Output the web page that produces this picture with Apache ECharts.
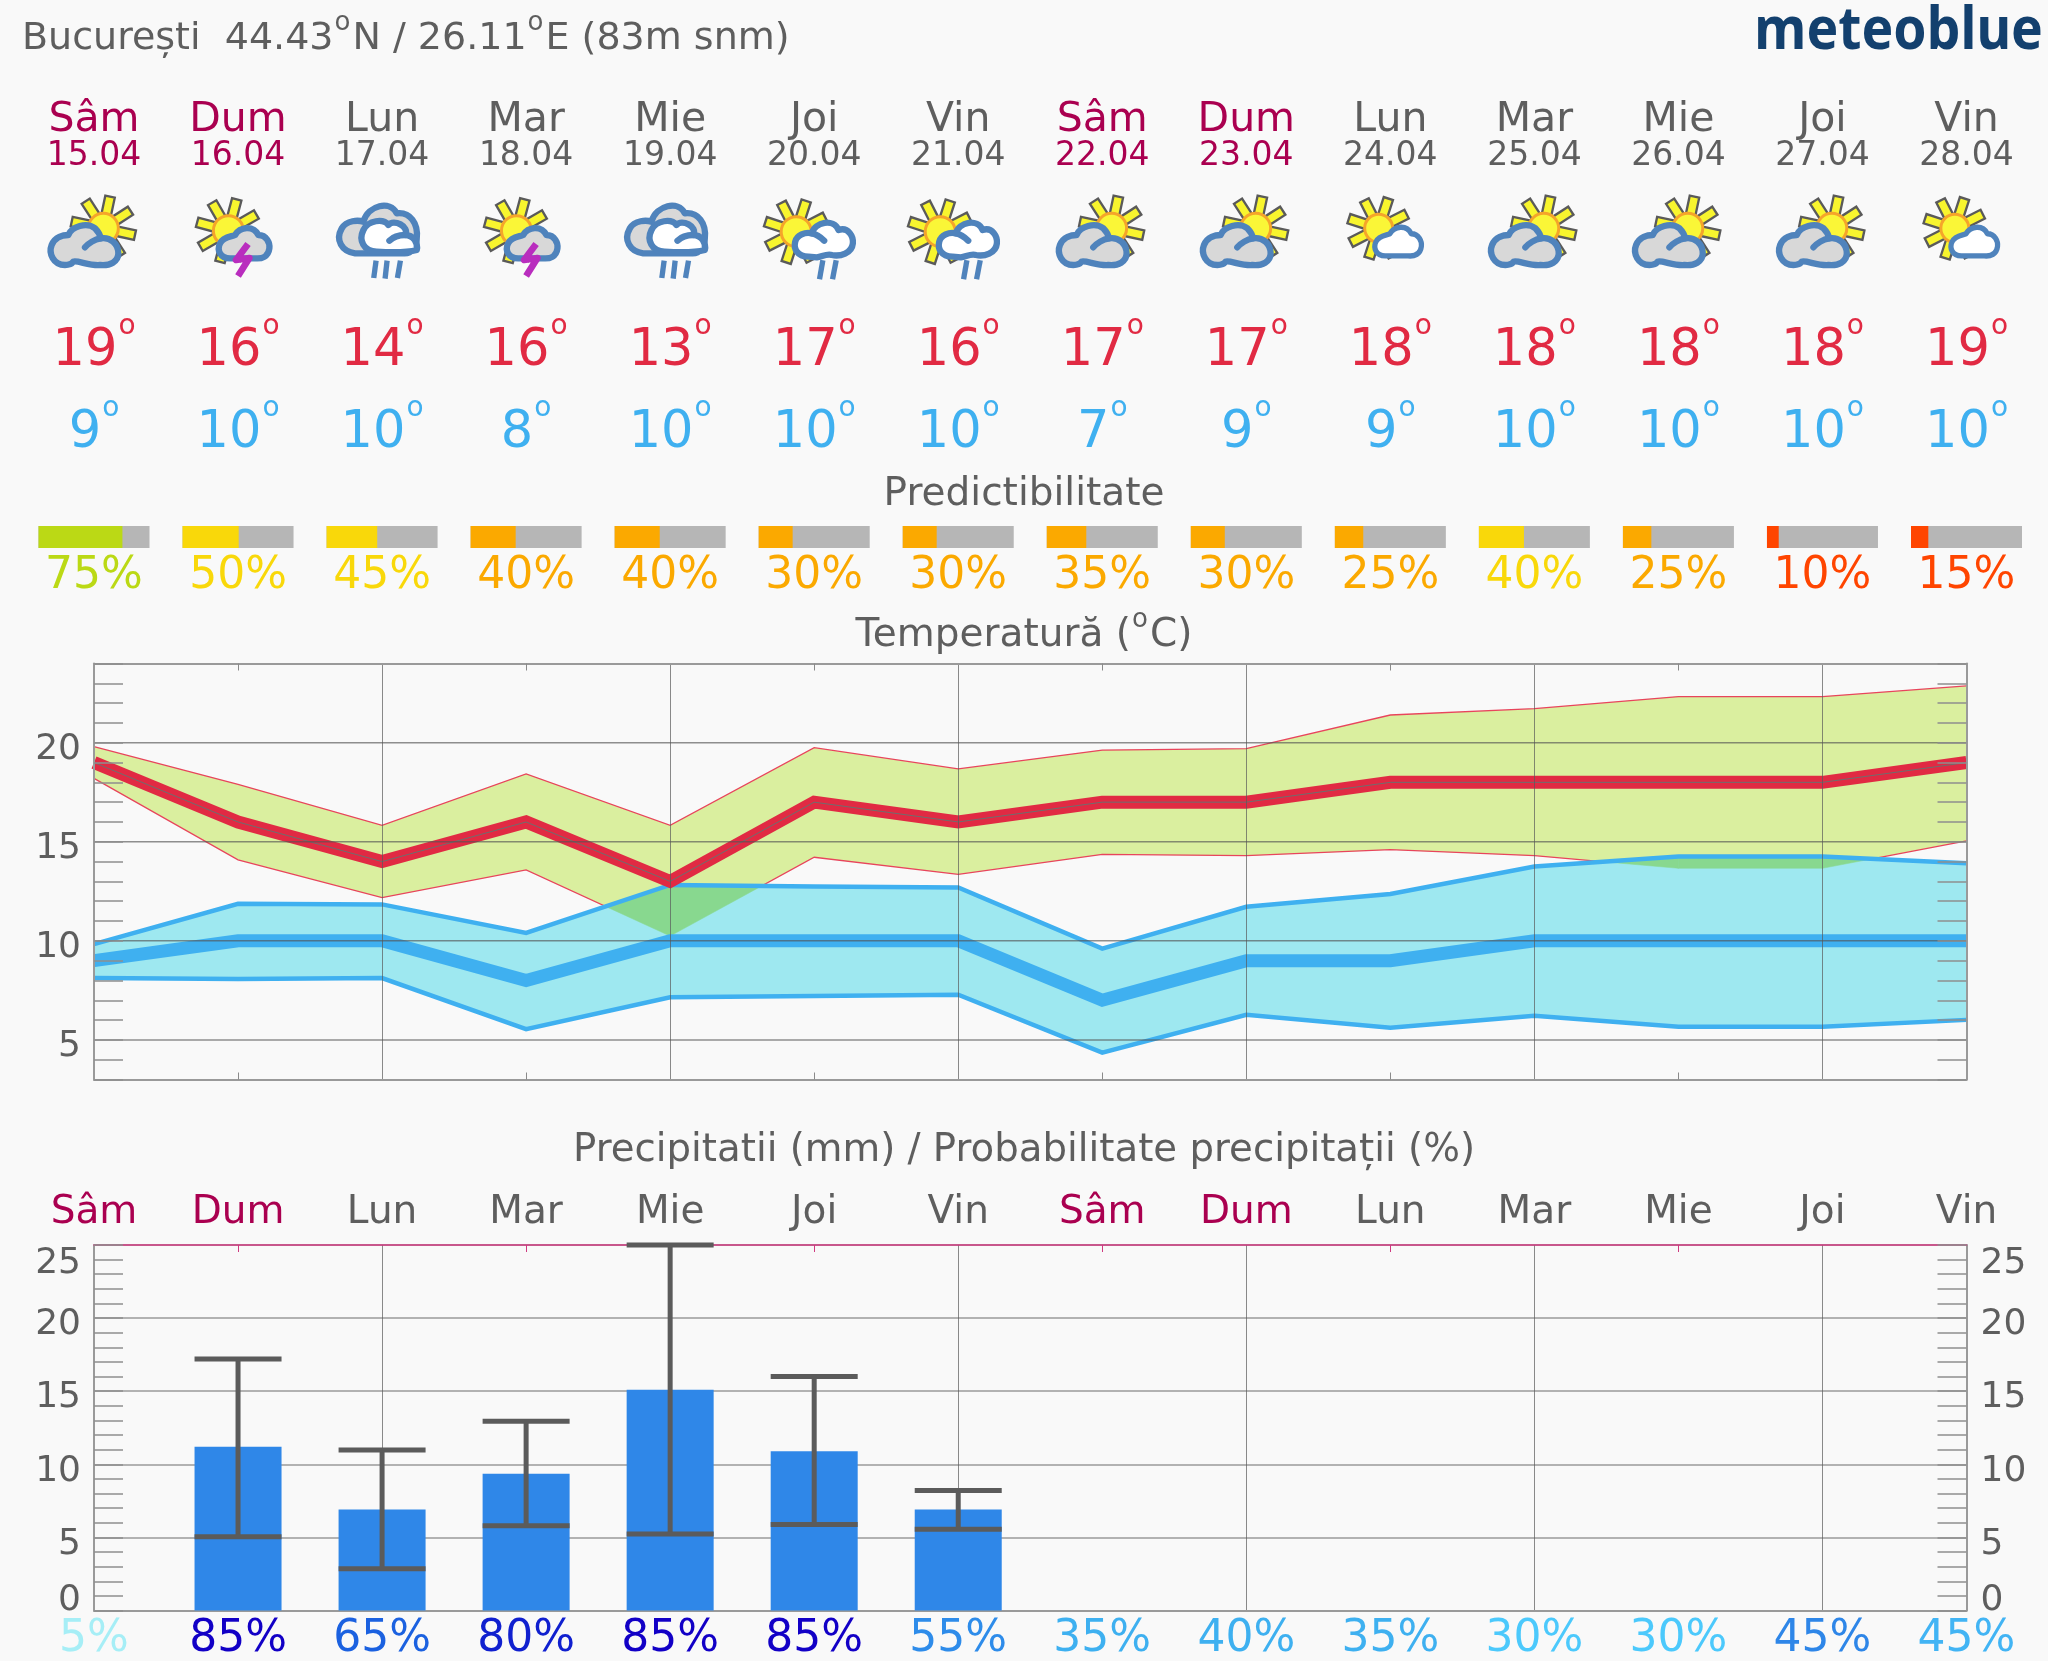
<!DOCTYPE html>
<html>
<head>
<meta charset="utf-8">
<style>html,body{margin:0;padding:0;background:#F9F9F9}#c{width:2048px;height:1661px}</style>
<script src="https://cdn.jsdelivr.net/npm/echarts@6/dist/echarts.min.js"></script>
</head>
<body>
<div id="c"></div>
<script>
// ---------- data ----------
const dayNames = ['Sâm','Dum','Lun','Mar','Mie','Joi','Vin','Sâm','Dum','Lun','Mar','Mie','Joi','Vin'];
const dates = ['15.04','16.04','17.04','18.04','19.04','20.04','21.04','22.04','23.04','24.04','25.04','26.04','27.04','28.04'];
const weekendDays = [0,1,7,8];
const iconKinds = ['A','B','C','B','C','D','D','A','A','E','A','A','A','E'];
const tempMax = [19,16,14,16,13,17,16,17,17,18,18,18,18,19];
const tempMin = [9,10,10,8,10,10,10,7,9,9,10,10,10,10];
const predictability = [75,50,45,40,40,30,30,35,30,25,40,25,10,15];
const predColors = ['#BBD915','#F9D80A','#F9D80A','#FBA900','#FBA900','#FBA900','#FBA900','#FBA900','#FBA900','#FBA900','#F9D80A','#FBA900','#FF4500','#FF4500'];
const maxUpper = [19.8,17.9,15.83,18.43,15.83,19.75,18.68,19.63,19.7,21.4,21.72,22.33,22.33,22.87];
const maxLower = [18.2,14.09,12.18,13.58,10.24,14.22,13.36,14.36,14.3,14.6,14.3,13.66,13.66,15.05];
const minUpper = [9.83,11.87,11.84,10.4,12.82,12.74,12.69,9.61,11.72,12.36,13.75,14.26,14.26,13.92];
const minLower = [8.12,8.07,8.12,5.54,7.15,7.21,7.28,4.36,6.27,5.61,6.22,5.66,5.66,6.01];
const tempTickLabels = [5,10,15,20];
const precip = [0,11.2,6.9,9.35,15.1,10.9,6.9,0,0,0,0,0,0,0];
const precipHigh = [null,17.2,10.97,12.94,25,16,8.2,null,null,null,null,null,null,null];
const precipLow = [null,5.05,2.85,5.8,5.23,5.88,5.55,null,null,null,null,null,null,null];
const precipTickLabels = [0,5,10,15,20,25];
const precipProb = [5,85,65,80,85,85,55,35,40,35,30,30,45,45];
const probColors = ['#A6EEF6','#1200C6','#1B61E0','#1020CF','#1200C6','#1200C6','#2E8CEA','#3EB0F0','#3EB0F0','#3EB0F0','#4CC9FC','#4CC9FC','#2E86E8','#42B4F4'];

// ---------- style ----------
const FONT = '"DejaVu Sans"';
const GREY = '#5E5E5E', CRIMSON = '#AA0050', RED = '#E12A43', BLUE = '#3FB0F0';
const STROKE = '#4F83BC';
const KB = 0.28;
const measureCtx = document.createElement('canvas').getContext('2d');
function textWidth(s, size){ measureCtx.font = size + 'px ' + FONT; return measureCtx.measureText(s).width; }
function txt(s, x, baseline, size, color, align){
  return {type:'text', x:x, y:baseline - KB*size,
    style:{text:s, fill:color, font:size+'px '+FONT, align:align||'center', verticalAlign:'middle'}};
}
const idx = dayNames.map((_,i)=>i);
const xy = a => a.map((v,i)=>[i,v]);
function dayColor(i){ return weekendDays.indexOf(i)>=0 ? CRIMSON : GREY; }

// ---------- icons (drawn in 3x units, x0 at 192, y0 at 190px) ----------
function rays(cx, cy, r1, r2, w, angles){
  return angles.map(a=>{
    const t=a*Math.PI/180, c=Math.cos(t), s=Math.sin(t), nx=-s*w/2, ny=c*w/2;
    return {type:'polygon', shape:{points:[
      [cx+c*r1+nx,cy+s*r1+ny],[cx+c*r2+nx,cy+s*r2+ny],[cx+c*r2-nx,cy+s*r2-ny],[cx+c*r1-nx,cy+s*r1-ny]]},
      style:{fill:'#F8F52E',stroke:'#5A5A5A',lineWidth:7}};
  });
}
function sun(cx,cy,r,angles){
  return rays(cx,cy,r-6,r+52,29,angles).concat([{type:'circle',shape:{cx:cx,cy:cy,r:r},style:{fill:'#FAF637',stroke:'#F5A52A',lineWidth:9}}]);
}
function p(d,fill,stroke,lw,extra){
  return Object.assign({type:'path',shape:{pathData:d},style:{fill:fill||'none',stroke:stroke||STROKE,lineWidth:lw||19,lineCap:'round',lineJoin:'round'}},extra||{});
}
const bigCloud='M105 225C70 225 55 190 65 165C75 140 100 135 115 135C125 110 170 95 195 115C205 125 210 135 212 145C240 140 265 160 265 190C265 215 240 228 210 225C180 228 140 210 130 215C125 222 115 225 105 225Z';
const bigCurl='M165 172C175 160 195 148 212 145';
const smallCloud='M168 205C138 205 128 180 138 160C148 140 173 140 183 135C198 110 238 105 253 135C278 135 288 160 286 175C283 200 263 207 243 205C220 205 190 205 168 205Z';
const rainCloud='M175 200C140 200 130 175 135 155C140 135 165 125 185 130C195 95 250 85 265 120C295 110 310 140 308 160C305 190 270 200 245 195C230 190 215 200 200 202Z';
const rainCurl='M222 152C210 140 195 132 185 130';
const backCloud='M111 190C71 185 51 150 71 115C86 90 121 90 136 95C151 45 216 30 236 70C276 65 301 100 296 145C296 170 280 190 260 190Z';
const frontCloud='M176 185C136 185 121 150 136 120C151 90 196 85 211 105C226 85 276 110 261 135C286 135 301 160 296 180C270 187 210 187 176 185Z';
const frontCurl='M214 152C226 140 246 135 261 135';
function bar(x1,y1,x2,y2,color,w){ return {type:'line',shape:{x1,y1,x2,y2},style:{stroke:color||STROKE,lineWidth:w||16}}; }
function iconChildren(kind){
  if(kind==='A') return sun(220,115,45,[-78,-123,-33,12,57,102,147,192]).concat([p(bigCloud,'#D8D8D8'),p(bigCurl)]);
  if(kind==='B') return sun(163,122,45,[-75,-120,-165,150,105,60,15,-30]).concat([
    p(smallCloud,'#D8D8D8'),
    {type:'polyline',shape:{points:[[222,162],[186,210],[226,204],[192,258]]},style:{fill:'none',stroke:'#B92DBE',lineWidth:20,lineJoin:'round'}}]);
  if(kind==='C') return [p(backCloud,'#D8D8D8'),p(frontCloud,'#FFFFFF'),p(frontCurl),
    bar(174,212,167,264),bar(207,212,201,266),bar(247,212,238,264)];
  if(kind==='D') return sun(138,125,45,[-72,-117,-162,153,108,63,18,-27]).concat([p(rainCloud,'#FFFFFF'),p(rainCurl),
    bar(218,211,208,268),bar(258,211,247,268)]);
  return sun(157,115,42,[-72,-117,-162,153,108,63,18,-27]).concat([
    p(smallCloud,'#FFFFFF',STROKE,17,{x:22,y:3,scaleX:0.92,scaleY:0.95})]);
}

// ---------- overlay helpers ----------
const OV = {xAxisIndex:4,yAxisIndex:4,type:'custom',silent:true,z:30};
function overlay(name, render){
  return Object.assign({},OV,{name:name,data:idx.map(i=>[i,0]),renderItem:function(par,api){
    const i=api.value(0); const pt=y=>api.coord([i,y]); return render(i,pt);
  }});
}
function degreeText(val,x,baseline,size,color){
  const s=String(val), w=textWidth(s,size), dsize=28, dw=textWidth('o',dsize), gap=1, total=w+gap+dw, left=x-total/2;
  return {type:'group',children:[txt(s,left,baseline,size,color,'left'),txt('o',left+w+gap,baseline-31,dsize,color,'left')]};
}
function composed(pieces,x,baseline,size,dsize,raise,color,center){
  let total=0; pieces.forEach(q=>total+=q==='°'?textWidth('o',dsize)+3:textWidth(q,size));
  let cx=center?x-total/2:x; const out=[];
  pieces.forEach(q=>{
    if(q==='°'){ out.push(txt('o',cx+1,baseline-raise,dsize,color,'left')); cx+=textWidth('o',dsize)+3; }
    else { out.push(txt(q,cx,baseline,size,color,'left')); cx+=textWidth(q,size); }
  });
  return out;
}
// overlap of the two bands, worked out from the band arrays segment by segment
function overlapQuads(){
  const quads=[];
  for(let i=0;i<maxUpper.length-1;i++){
    const a=[maxUpper,maxLower], b=[minUpper,minLower];
    const ts=[0,1];
    a.forEach(s=>b.forEach(r=>{
      const d0=s[i]-r[i], d1=s[i+1]-r[i+1];
      if(d0*d1<0) ts.push(d0/(d0-d1));
    }));
    ts.sort((u,v)=>u-v);
    const at=(s,t)=>s[i]+(s[i+1]-s[i])*t;
    const up=t=>Math.min(at(maxUpper,t),at(minUpper,t));
    const lo=t=>Math.max(at(maxLower,t),at(minLower,t));
    for(let k=0;k<ts.length-1;k++){
      const t0=ts[k],t1=ts[k+1],m=(t0+t1)/2;
      if(t1>t0 && up(m)>lo(m)) quads.push([i+t0,Math.max(up(t0),lo(t0)),Math.min(lo(t0),up(t0)),i+t1,Math.max(up(t1),lo(t1)),Math.min(lo(t1),up(t1))]);
    }
  }
  return quads;
}

// ---------- series ----------
const bandStyle = {silent:true,type:'custom',clip:true,xAxisIndex:0,yAxisIndex:0};
function band(name,up,lo,fill,z){
  return Object.assign({},bandStyle,{name:name,z:z,data:[[0,0]],renderItem:function(par,api){
    const pts=up.map((v,i)=>api.coord([i,v])).concat(lo.map((v,i)=>api.coord([i,v])).reverse());
    return {type:'polygon',shape:{points:pts},style:{fill:fill}};
  }});
}
function line(name,a,color,w,z){
  return {name:name,type:'line',xAxisIndex:0,yAxisIndex:0,data:xy(a),symbol:'none',silent:true,z:z,
    lineStyle:{color:color,width:w,cap:'butt',join:'miter'}};
}
function tickLabels(name,xAxisIndex,yAxisIndex,values,xv,dx,align,shift){
  return {name:name,type:'custom',xAxisIndex:xAxisIndex,yAxisIndex:yAxisIndex,silent:true,z:30,clip:false,
    data:values.map(v=>[xv,v]),
    renderItem:function(par,api){
      const v=api.value(1),c=api.coord([xv,v]);
      return txt(String(v),c[0]+dx,c[1]+shift(v),36,GREY,align);
    }};
}
const precipShift=v=>v===0?0:(v===25?29:17);
const series=[
  band('Max band',maxUpper,maxLower,'#DAEF9F',1),
  line('Max high',maxUpper,'#E8455C',1.3,2),
  line('Max low',maxLower,'#E8455C',1.3,2),
  band('Min band',minUpper,minLower,'#9EE8F0',3),
  {name:'Overlap',type:'custom',silent:true,clip:true,xAxisIndex:0,yAxisIndex:0,z:4,data:overlapQuads(),
    renderItem:function(par,api){
      const a=api.coord([api.value(0),api.value(1)]),b=api.coord([api.value(3),api.value(4)]),
            c=api.coord([api.value(3),api.value(5)]),d=api.coord([api.value(0),api.value(2)]);
      return {type:'polygon',shape:{points:[a,b,c,d]},style:{fill:'#88D88F',stroke:'#88D88F',lineWidth:0.5}};
    }},
  line('Min high',minUpper,BLUE,4.5,6),
  line('Min low',minLower,BLUE,4.5,6),
  line('Min temperature',tempMin,BLUE,13,7),
  line('Max temperature',tempMax,RED,13,8),
  line('Max centre',tempMax,'#6E6E6E',1,9),
  {name:'Temp grid',type:'custom',xAxisIndex:0,yAxisIndex:0,silent:true,z:20,data:tempTickLabels.map(v=>[0,v]),
    renderItem:function(par,api){
      const v=api.value(1),a=api.coord([0,v]),b=api.coord([13,v]);
      return {type:'line',shape:{x1:a[0],y1:a[1],x2:b[0],y2:b[1]},style:{stroke:'rgba(85,85,85,0.65)',lineWidth:1.5}};
    }},
  tickLabels('Temp labels',0,0,tempTickLabels,0,-13,'right',()=>17),
  tickLabels('Precip labels left',2,2,precipTickLabels,0,-13,'right',precipShift),
  tickLabels('Precip labels right',2,2,precipTickLabels,13,14,'left',precipShift),
  // precipitation
  {name:'Precipitatii',type:'bar',xAxisIndex:2,yAxisIndex:2,data:xy(precip),barWidth:87,silent:true,z:3,
    itemStyle:{color:'#2F87E8'}},
  {name:'Range',type:'custom',xAxisIndex:2,yAxisIndex:2,silent:true,z:5,clip:false,
    data:idx.filter(i=>precipHigh[i]!==null).map(i=>[i,precipLow[i],precipHigh[i]]),
    renderItem:function(par,api){
      const i=api.value(0),lo=api.coord([i,api.value(1)]),hi=api.coord([i,api.value(2)]),w=43.5;
      const st={stroke:'#5B5B5B',lineWidth:5};
      return {type:'group',children:[
        {type:'line',shape:{x1:lo[0],y1:lo[1],x2:hi[0],y2:hi[1]},style:st},
        {type:'line',shape:{x1:lo[0]-w,y1:lo[1],x2:lo[0]+w,y2:lo[1]},style:st},
        {type:'line',shape:{x1:hi[0]-w,y1:hi[1],x2:hi[0]+w,y2:hi[1]},style:st}]};
    }},
  // header rows
  overlay('Days',(i,pt)=>txt(dayNames[i],pt(0)[0],132,41,dayColor(i))),
  overlay('Dates',(i,pt)=>txt(dates[i],pt(0)[0],166,33,dayColor(i))),
  overlay('Icons',(i,pt)=>({type:'group',x:pt(0)[0]-64,y:190,scaleX:1/3,scaleY:1/3,children:iconChildren(iconKinds[i])})),
  overlay('Tmax',(i,pt)=>degreeText(tempMax[i],pt(0)[0],366,51,RED)),
  overlay('Tmin',(i,pt)=>degreeText(tempMin[i],pt(0)[0],448,51,BLUE)),
  overlay('Predictability bars',(i,pt)=>{
    const x=pt(0)[0]-55.5,W=111;
    return {type:'group',children:[
      {type:'rect',shape:{x:x,y:526,width:W,height:22},style:{fill:'#B6B6B6'}},
      {type:'rect',shape:{x:x,y:526,width:W*(predictability[i]+0.6)/100,height:22},style:{fill:predColors[i]}}]};
  }),
  overlay('Predictability',(i,pt)=>txt(predictability[i]+'%',pt(0)[0],589,44,predColors[i])),
  overlay('Days 2',(i,pt)=>txt(dayNames[i],pt(0)[0],1224,39,dayColor(i))),
  overlay('Probability',(i,pt)=>txt(precipProb[i]+'%',pt(0)[0],1651.5,44,probColors[i])),
];

const commonX={type:'value',min:0,max:13,interval:2,axisLabel:{show:false},
  minorTick:{show:true,splitNumber:2,length:7,lineStyle:{color:'#8A8A8A',width:1}},
  axisTick:{show:true,inside:true,length:0},splitLine:{show:false},minorSplitLine:{show:false}};
const vLine={show:true,lineStyle:{color:'rgba(90,90,90,0.7)',width:1}};
function xa(grid,pos,opt){ return Object.assign({},commonX,{gridIndex:grid,position:pos},opt); }
const spine={show:true,onZero:false,lineStyle:{color:'#9A9A9A',width:2}};
const pinkSpine={show:true,onZero:false,lineStyle:{color:'#CF3A80',width:1.5}};
const yTick={show:true,inside:true,length:29,lineStyle:{color:'#8F8F8F',width:1.5}};

const option={
  animation:false,backgroundColor:'#F9F9F9',
  grid:[
    {left:94,width:1872.5,top:663.5,height:416},
    {left:94,width:1872.5,top:1245,height:365.5},
    {left:94,width:1872.5,top:0,height:1661}
  ],
  xAxis:[
    xa(0,'bottom',{axisLine:spine,splitLine:vLine,z:20}),
    xa(0,'top',{axisLine:spine,z:20}),
    xa(1,'bottom',{axisLine:spine,splitLine:vLine,minorTick:{show:false}}),
    xa(1,'top',{axisLine:pinkSpine,minorTick:{show:true,splitNumber:2,length:7,lineStyle:{color:'#CF3A80',width:1}}}),
    {gridIndex:2,type:'value',min:0,max:13,show:false}
  ],
  yAxis:[
    {gridIndex:0,type:'value',min:3,max:24,interval:1,position:'left',axisLine:spine,axisTick:yTick,splitLine:{show:false},z:20,axisLabel:{show:false}},
    {gridIndex:0,type:'value',min:3,max:24,interval:1,position:'right',axisLine:spine,axisTick:yTick,splitLine:{show:false},axisLabel:{show:false},z:20},
    {gridIndex:1,type:'value',min:0,max:25,interval:5,position:'left',axisLine:spine,axisTick:yTick,
     minorTick:{show:true,splitNumber:5,length:29,lineStyle:{color:'#8F8F8F',width:1.5}},
     splitLine:{show:true,lineStyle:{color:'#9A9A9A',width:1.5}},axisLabel:{show:false}},
    {gridIndex:1,type:'value',min:0,max:25,interval:5,position:'right',axisLine:spine,axisTick:yTick,
     minorTick:{show:true,splitNumber:5,length:29,lineStyle:{color:'#8F8F8F',width:1.5}},splitLine:{show:false},axisLabel:{show:false}},
    {gridIndex:2,type:'value',min:0,max:1661,inverse:true,show:false}
  ],
  series:series,
  graphic:{elements:[].concat(
    composed(['București\u00A0\u00A0','44.43','°','N / 26.11','°','E (83m snm)'],22,49.5,38,26,19,GREY,false),
    composed(['Temperatură (','°','C)'],1024,647,39,26,19,GREY,true),
    [
      txt('Predictibilitate',1024,506,39,GREY),
      txt('Precipitatii (mm) / Probabilitate precipitații (%)',1024,1162,38.7,GREY),
      {type:'group',x:2043,y:49,scaleX:0.89,children:[
        {type:'text',x:0,y:-KB*60,style:{text:'meteoblue',fill:'#13406E',font:'bold 60px "Noto Sans"',align:'right',verticalAlign:'middle'}}]}
    ])}
};
const chart=echarts.init(document.getElementById('c'),null,{renderer:'canvas',width:2048,height:1661});
chart.setOption(option);
</script>
</body>
</html>
